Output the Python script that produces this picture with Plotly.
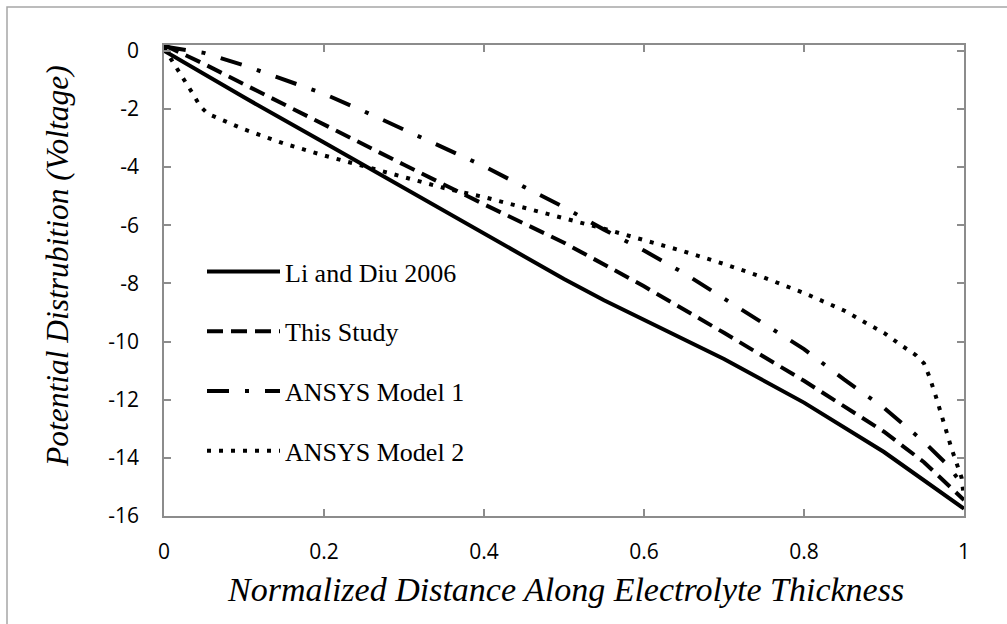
import plotly.graph_objects as go

# ---- data ----
x_li = [0, 0.1, 0.2, 0.3, 0.4, 0.45, 0.5, 0.55, 0.6, 0.7, 0.8, 0.9, 1.0]
y_li = [0, -1.6, -3.15, -4.72, -6.3, -7.08, -7.85, -8.58, -9.25, -10.6, -12.1, -13.8, -15.75]

x_study = [0, 0.05, 0.1, 0.2, 0.3, 0.4, 0.5, 0.6, 0.7, 0.8, 0.9, 0.95, 1.0]
y_study = [0.2, -0.45, -1.15, -2.55, -3.92, -5.28, -6.6, -8.1, -9.7, -11.35, -13.1, -14.15, -15.45]

x_m1 = [0, 0.05, 0.1, 0.15, 0.2, 0.25, 0.3, 0.35, 0.4, 0.45, 0.5, 0.55, 0.6, 0.65,
        0.7, 0.75, 0.8, 0.85, 0.9, 0.95, 0.98, 1.0]
y_m1 = [0.15, -0.07, -0.5, -1.0, -1.48, -2.08, -2.7, -3.32, -3.97, -4.68, -5.38, -6.15,
        -6.87, -7.65, -8.52, -9.4, -10.26, -11.3, -12.28, -13.45, -14.26, -15.0]

x_m2 = [0, 0.014, 0.022, 0.03, 0.037, 0.045, 0.055, 0.068, 0.08, 0.1, 0.15, 0.2, 0.25,
        0.3, 0.35, 0.4, 0.45, 0.5, 0.55, 0.6, 0.65, 0.7, 0.75, 0.8, 0.85, 0.88, 0.9,
        0.92, 0.94, 0.95, 0.957, 0.965, 0.975, 0.985, 0.997, 1.0]
y_m2 = [0.1, -0.49, -0.83, -1.18, -1.52, -1.9, -2.17, -2.32, -2.45, -2.7, -3.19, -3.6,
        -3.97, -4.33, -4.72, -5.03, -5.38, -5.76, -6.12, -6.5, -6.9, -7.33, -7.8, -8.33,
        -8.93, -9.4, -9.7, -10.1, -10.47, -10.75, -11.23, -11.9, -12.85, -13.73, -14.68, -15.4]

names = ["Li and Diu 2006", "This Study", "ANSYS Model 1", "ANSYS Model 2"]
x_ticks = [0, 0.2, 0.4, 0.6, 0.8, 1]
x_tick_text = ["0", "0.2", "0.4", "0.6", "0.8", "1"]
y_ticks = [0, -2, -4, -6, -8, -10, -12, -14, -16]
y_tick_text = ["0", "-2", "-4", "-6", "-8", "-10", "-12", "-14", "-16"]

x_title = "Normalized Distance Along Electrolyte Thickness"
y_title = "Potential Distrubition (Voltage)"

# ---- figure ----
W, H = 1007, 624
L, R, T, B = 164, 43, 45, 108
pw, ph = W - L - R, H - T - B

fig = go.Figure()
series = [
    (x_li, y_li, "solid"),
    (x_study, y_study, "16px,8px"),
    (x_m1, y_m1, "22px,16px,4px,16px"),
    (x_m2, y_m2, "4px,8px"),
]
for i, (xs, ys, dash) in enumerate(series):
    fig.add_trace(go.Scatter(
        x=xs, y=ys, mode="lines", name=names[i], legendgroup=str(i),
        line=dict(color="black", width=4, dash=dash),
    ))

axis_common = dict(
    showgrid=False, zeroline=False, showline=True, linecolor="#8c8c8c", linewidth=1.5,
    mirror="ticks", ticks="inside", ticklen=7, tickcolor="#8c8c8c", tickwidth=1.5,
    tickfont=dict(family="Open Sans", size=21, color="black"),
)

fig.update_layout(
    width=W, height=H,
    margin=dict(l=L, r=R, t=T, b=B, pad=0),
    paper_bgcolor="white", plot_bgcolor="white",
    xaxis=dict(range=[0, 1], tickvals=x_ticks, ticktext=x_tick_text,
               ticklabelstandoff=16, **axis_common),
    yaxis=dict(range=[-16, 0.2], tickvals=y_ticks, ticktext=y_tick_text,
               ticklabelstandoff=19, **axis_common),
    showlegend=True,
    legend=dict(
        x=(202 - L) / pw, y=(H - B - 248) / ph,
        xanchor="left", yanchor="top",
        font=dict(family="Liberation Serif", size=26, color="black"),
        bgcolor="rgba(0,0,0,0)", tracegroupgap=23, itemwidth=73,
        traceorder="grouped",
    ),
    annotations=[
        dict(text="<i>" + x_title + "</i>", xref="paper", yref="paper", x=(565 - L) / pw,
             y=-(589 - (T + ph)) / ph, showarrow=False, xanchor="center", yanchor="middle",
             font=dict(family="Liberation Serif", size=34, color="black")),
        dict(text="<i>" + y_title + "</i>", xref="paper", yref="paper", x=-(L - 57) / pw,
             y=(T + ph - 266) / ph, showarrow=False, xanchor="center", yanchor="middle",
             font=dict(family="Liberation Serif", size=31.5, color="black"), textangle=-90),
    ],
    shapes=[
        dict(type="rect", xref="paper", yref="paper",
             x0=-(L - 7) / pw, x1=(W + 20 - L) / pw,
             y0=-(B + 20) / ph, y1=(T + ph - 7) / ph,
             line=dict(color="#a6a6a6", width=1.5), layer="below"),
    ],
)

fig.write_html("out.html")
